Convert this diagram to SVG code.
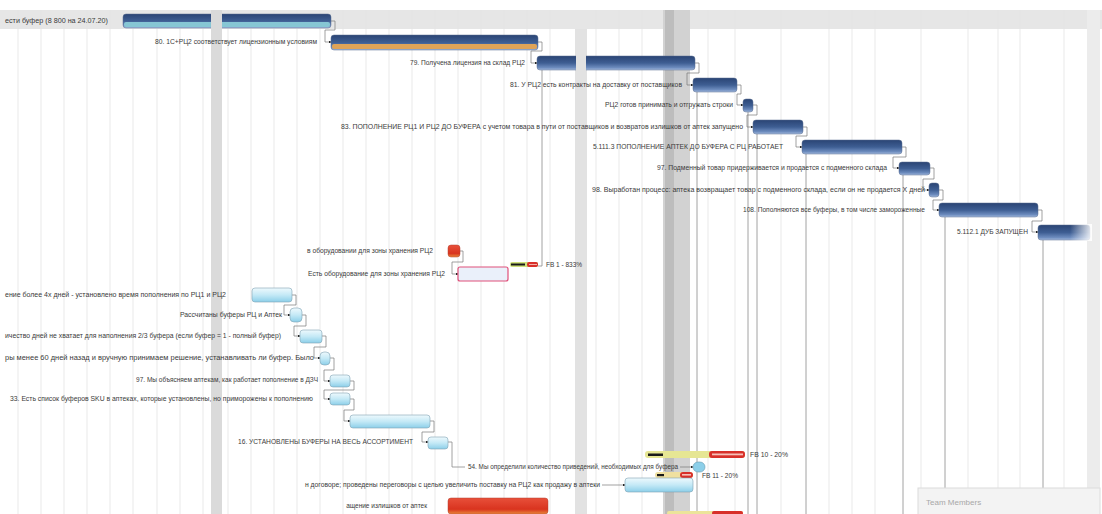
<svg xmlns="http://www.w3.org/2000/svg" width="1102" height="514" viewBox="0 0 1102 514">
<defs>
<linearGradient id="gDark" x1="0" y1="0" x2="0" y2="1">
<stop offset="0" stop-color="#2a4474"/><stop offset="0.5" stop-color="#3e5e93"/><stop offset="0.85" stop-color="#6f8ec0"/><stop offset="1" stop-color="#a9bedf"/>
</linearGradient>
<linearGradient id="gLight" x1="0" y1="0" x2="0" y2="1">
<stop offset="0" stop-color="#eef9fd"/><stop offset="0.5" stop-color="#c4e9f6"/><stop offset="1" stop-color="#8ccfe9"/>
</linearGradient>
<linearGradient id="gRed" x1="0" y1="0" x2="0" y2="1">
<stop offset="0" stop-color="#e8503a"/><stop offset="0.7" stop-color="#d9341f"/><stop offset="1" stop-color="#e88a3a"/>
</linearGradient>
<linearGradient id="gFade" x1="0" y1="0" x2="1" y2="0">
<stop offset="0" stop-color="#ffffff" stop-opacity="0"/><stop offset="1" stop-color="#ffffff" stop-opacity="0.9"/>
</linearGradient>
<marker id="arr" viewBox="0 0 6 6" refX="5" refY="3" markerWidth="4" markerHeight="4" orient="auto">
<path d="M0,0 L6,3 L0,6 Z" fill="#1a1a1a"/>
</marker>
<style>
text{font-family:"Liberation Sans","DejaVu Sans",sans-serif;font-size:6.5px;fill:#3a3a3a}
.grid{stroke:#e3e3e3;stroke-width:0.8}
.vline{stroke:#8a8a8a;stroke-width:0.8;fill:none}
.link{stroke:#7a7a7a;stroke-width:0.7;fill:none;marker-end:url(#arr)}
.dark{fill:url(#gDark);stroke:#5a6e90;stroke-width:0.5}
.light{fill:url(#gLight);stroke:#7fa3b3;stroke-width:0.6}
</style>
</defs>
<rect width="1102" height="514" fill="#ffffff"/>
<g id="background">
<rect x="0" y="10" width="1102" height="19" fill="#e6e6e6"/>
<rect x="211" y="10" width="11" height="504" fill="#dadada"/>
<rect x="575" y="29" width="12" height="485" fill="#e2e2e2"/>
<rect x="663" y="10" width="27" height="504" fill="#d2d2d2"/>
<rect x="665" y="10" width="9" height="504" fill="#bdbdbd"/>
<rect x="1087" y="10" width="13" height="504" fill="#ececec"/>
<g class="grid">
<line x1="18" y1="10" x2="18" y2="514"/><line x1="41" y1="10" x2="41" y2="514"/><line x1="64" y1="10" x2="64" y2="514"/><line x1="87" y1="10" x2="87" y2="514"/><line x1="110" y1="10" x2="110" y2="514"/><line x1="133" y1="10" x2="133" y2="514"/><line x1="157" y1="10" x2="157" y2="514"/><line x1="180" y1="10" x2="180" y2="514"/><line x1="203" y1="10" x2="203" y2="514"/><line x1="228" y1="10" x2="228" y2="514"/><line x1="251" y1="10" x2="251" y2="514"/><line x1="274" y1="10" x2="274" y2="514"/><line x1="297" y1="10" x2="297" y2="514"/><line x1="320" y1="10" x2="320" y2="514"/><line x1="343" y1="10" x2="343" y2="514"/><line x1="366" y1="10" x2="366" y2="514"/><line x1="389" y1="10" x2="389" y2="514"/><line x1="412" y1="10" x2="412" y2="514"/><line x1="435" y1="10" x2="435" y2="514"/><line x1="458" y1="10" x2="458" y2="514"/><line x1="481" y1="10" x2="481" y2="514"/><line x1="504" y1="10" x2="504" y2="514"/><line x1="527" y1="10" x2="527" y2="514"/><line x1="550" y1="10" x2="550" y2="514"/><line x1="596" y1="10" x2="596" y2="514"/><line x1="619" y1="10" x2="619" y2="514"/><line x1="642" y1="10" x2="642" y2="514"/><line x1="708" y1="10" x2="708" y2="514"/><line x1="735" y1="10" x2="735" y2="514"/><line x1="781" y1="10" x2="781" y2="514"/><line x1="829" y1="10" x2="829" y2="514"/><line x1="852" y1="10" x2="852" y2="514"/><line x1="875" y1="10" x2="875" y2="514"/><line x1="921" y1="10" x2="921" y2="514"/><line x1="968" y1="10" x2="968" y2="514"/><line x1="998" y1="10" x2="998" y2="514"/><line x1="1020" y1="10" x2="1020" y2="514"/><line x1="1064" y1="10" x2="1064" y2="514"/>
</g>
</g>
<g id="connectors">
<path class="vline" d="M542,70 V266 H538"/>
<path class="vline" d="M697,92 V514"/>
<path class="vline" d="M748,112 V514"/>
<path class="vline" d="M757,134 V514"/>
<path class="vline" d="M806,154 V514"/>
<path class="vline" d="M903,175 V514"/>
<path class="vline" d="M945,217 V514"/>
<path class="vline" d="M1043,240 V514"/>
<path class="link" d="M331,21 H335 V30 H325 V42 H331"/>
<path class="link" d="M538,42 H542 V51 H531 V63 H537"/>
<path class="link" d="M695,63 H699 V73 H687 V85 H693"/>
<path class="link" d="M737,85 H741 V94 H737 V105 H743"/>
<path class="link" d="M753,105 H757 V115 H747 V127 H753"/>
<path class="link" d="M803,127 H807 V136 H796 V147 H802"/>
<path class="link" d="M902,147 H906 V157 H893 V168 H899"/>
<path class="link" d="M930,168 H934 V179 H923 V190 H929"/>
<path class="link" d="M939,190 H943 V200 H933 V210 H939"/>
<path class="link" d="M1038,210 H1042 V221 H1032 V232 H1038"/>
<path class="link" d="M460,251 H463 V262 H452 V274 H458"/>
<path class="link" d="M292,295 H296 V305 H284 V315 H290"/>
<path class="link" d="M302,315 H306 V326 H294 V336 H300"/>
<path class="link" d="M322,336 H326 V347 H314 V358 H320"/>
<path class="link" d="M330,358 H334 V370 H324 V381 H330"/>
<path class="link" d="M350,381 H354 V390 H324 V399 H330"/>
<path class="link" d="M350,399 H354 V410 H344 V421 H350"/>
<path class="link" d="M430,421 H434 V432 H422 V442 H428"/>
<path class="vline" d="M448,442 H452 V467 H465"/>
<path class="link" d="M680,467 H693"/>
<path class="link" d="M602,485 H625"/>
</g>
<g id="row0"><text x="5" y="23" textLength="103" lengthAdjust="spacingAndGlyphs">ести буфер (8 800 на 24.07.20)</text>
<rect x="123" y="14" width="208" height="14" rx="3" class="dark"/><rect x="124" y="22" width="206" height="5" rx="2" fill="#86c6d4"/><rect x="211" y="13" width="11" height="16" fill="#dadada"/></g>
<g id="row1"><text x="155" y="44" textLength="162" lengthAdjust="spacingAndGlyphs">80. 1С+РЦ2 соответствует лицензионным условиям</text>
<rect x="331" y="35" width="207" height="15" rx="3" class="dark"/><rect x="332" y="44" width="205" height="5" rx="2" fill="#e0a458"/></g>
<g id="row2"><text x="410" y="65" textLength="115" lengthAdjust="spacingAndGlyphs">79. Получена лицензия на склад РЦ2</text>
<rect x="537" y="56" width="158" height="14" rx="3" class="dark"/><rect x="576" y="55" width="10" height="16" fill="#e2e2e2"/></g>
<g id="row3"><text x="510" y="87" textLength="172" lengthAdjust="spacingAndGlyphs">81. У РЦ2 есть контракты на доставку от поставщиков</text>
<rect x="693" y="78" width="44" height="14" rx="3" class="dark"/></g>
<g id="row4"><text x="605" y="107" textLength="128" lengthAdjust="spacingAndGlyphs">РЦ2 готов принимать и отгружать строки</text>
<rect x="743" y="99" width="10" height="13" rx="3" class="dark"/></g>
<g id="row5"><text x="341" y="129" textLength="402" lengthAdjust="spacingAndGlyphs">83. ПОПОЛНЕНИЕ РЦ1 И РЦ2 ДО БУФЕРА с учетом товара в пути от поставщиков и возвратов излишков от аптек запущено</text>
<rect x="753" y="120" width="50" height="14" rx="3" class="dark"/></g>
<g id="row6"><text x="593" y="149" textLength="190" lengthAdjust="spacingAndGlyphs">5.111.3 ПОПОЛНЕНИЕ АПТЕК ДО БУФЕРА С РЦ РАБОТАЕТ</text>
<rect x="802" y="140" width="100" height="14" rx="3" class="dark"/></g>
<g id="row7"><text x="657" y="170" textLength="230" lengthAdjust="spacingAndGlyphs">97. Подменный товар придерживается и продается с подменного склада</text>
<rect x="899" y="162" width="31" height="13" rx="3" class="dark"/></g>
<g id="row8"><text x="592" y="192" textLength="333" lengthAdjust="spacingAndGlyphs">98. Выработан процесс: аптека возвращает товар с подменного склада, если он не продается X дней</text>
<rect x="929" y="183" width="10" height="14" rx="3" class="dark"/></g>
<g id="row9"><text x="743" y="212" textLength="182" lengthAdjust="spacingAndGlyphs">108. Пополняются все буферы, в том числе замороженные</text>
<rect x="939" y="203" width="99" height="14" rx="3" class="dark"/></g>
<g id="row10"><text x="957" y="234" textLength="71" lengthAdjust="spacingAndGlyphs">5.112.1 ДУБ ЗАПУЩЕН</text>
<rect x="1038" y="225" width="52" height="15" rx="3" class="dark"/><rect x="1070" y="224" width="22" height="17" fill="url(#gFade)"/></g>
<g id="row11"><text x="307" y="253" textLength="126" lengthAdjust="spacingAndGlyphs">в оборудовании для зоны хранения РЦ2</text>
<rect x="448" y="245" width="12" height="12" rx="3" fill="url(#gRed)" stroke="#b04030" stroke-width="0.5"/></g>
<g id="row12"><text x="308" y="276" textLength="137" lengthAdjust="spacingAndGlyphs">Есть оборудование для зоны хранения РЦ2</text>
<rect x="458" y="267" width="50" height="14" rx="2" fill="#eaf0fa" stroke="#e0507a" stroke-width="1.2"/></g>
<g id="fb1"><rect x="510" y="262" width="28" height="5" rx="2" fill="#cfe07a"/><rect x="511" y="263.5" width="14" height="2" fill="#1a1a1a"/><rect x="527" y="262" width="11" height="5" rx="2" fill="#d8302a"/><rect x="529" y="264" width="8" height="1" fill="#f3b0a8"/>
<text x="546" y="267">FB 1 - 833%</text></g>
<g id="row13"><text x="5" y="297" textLength="221" lengthAdjust="spacingAndGlyphs">ение более 4х дней - установлено время пополнения по РЦ1 и РЦ2</text>
<rect x="252" y="288" width="40" height="14" rx="3" class="light"/></g>
<g id="row14"><text x="180" y="317" textLength="102" lengthAdjust="spacingAndGlyphs">Рассчитаны буферы РЦ и Аптек</text>
<rect x="290" y="308" width="12" height="14" rx="4" class="light"/></g>
<g id="row15"><text x="5" y="338" textLength="276" lengthAdjust="spacingAndGlyphs">ичество дней не хватает для наполнения 2/3 буфера (если буфер = 1 - полный буфер)</text>
<rect x="300" y="330" width="22" height="13" rx="3" class="light"/></g>
<g id="row16"><text x="5" y="360" textLength="309" lengthAdjust="spacingAndGlyphs">ры менее 60 дней назад и вручную принимаем решение, устанавливать ли буфер. Было</text>
<rect x="320" y="352" width="10" height="13" rx="4" class="light"/></g>
<g id="row17"><text x="318" y="382" text-anchor="end">97. Мы объясняем аптекам, как работает пополнение в ДЗЧ</text>
<rect x="330" y="375" width="20" height="12" rx="3" class="light"/></g>
<g id="row18"><text x="10" y="401" textLength="303" lengthAdjust="spacingAndGlyphs">33. Есть список буферов SKU в аптеках, которые установлены, но приморожены к пополнению</text>
<rect x="330" y="393" width="20" height="12" rx="3" class="light"/></g>
<g id="row19"><rect x="350" y="415" width="80" height="13" rx="3" class="light"/></g>
<g id="row20"><text x="238" y="444" textLength="175" lengthAdjust="spacingAndGlyphs">16. УСТАНОВЛЕНЫ БУФЕРЫ НА ВЕСЬ АССОРТИМЕНТ</text>
<rect x="428" y="437" width="20" height="12" rx="3" class="light"/></g>
<g id="fb10"><rect x="645" y="451" width="100" height="7" rx="3" fill="#e6e694"/><rect x="648" y="453.5" width="15" height="2.5" fill="#1a1a1a"/><rect x="709" y="451" width="36" height="7" rx="3" fill="#d8302a"/><rect x="712" y="453.5" width="31" height="1.8" fill="#f6c0b8"/>
<text x="750" y="457" textLength="38" lengthAdjust="spacingAndGlyphs">FB 10 - 20%</text></g>
<g id="row22"><text x="468" y="469" textLength="210" lengthAdjust="spacingAndGlyphs">54. Мы определили количество приведений, необходимых для буфера</text>
<rect x="693" y="462" width="12" height="10" rx="5" fill="#8ccfe9" stroke="#6a9cb0" stroke-width="0.6"/></g>
<g id="fb11"><rect x="655" y="472" width="38" height="6" rx="3" fill="#f0e0a0"/><rect x="657" y="474" width="7" height="2.2" fill="#1a1a1a"/><rect x="680" y="472" width="13" height="6" rx="3" fill="#d8302a"/><rect x="682" y="474" width="9" height="1.6" fill="#f6c0b8"/>
<text x="702" y="478" textLength="36" lengthAdjust="spacingAndGlyphs">FB 11 - 20%</text></g>
<g id="row23"><text x="305" y="487" textLength="295" lengthAdjust="spacingAndGlyphs">н договоре; проведены переговоры с целью увеличить поставку на РЦ2 как продажу в аптеки</text>
<rect x="625" y="478" width="68" height="14" rx="3" class="light"/></g>
<g id="row24"><text x="427" y="508" text-anchor="end">ащение излишков от аптек</text>
<rect x="448" y="498" width="100" height="16" rx="3" fill="url(#gRed)" stroke="#b04030" stroke-width="0.5"/>
<rect x="667" y="511" width="76" height="4" rx="2" fill="#ece49a"/><rect x="712" y="511" width="31" height="4" rx="2" fill="#d8302a"/></g>
<g id="team-members"><rect x="918" y="488" width="182" height="28" fill="#f3f3f3" stroke="#dcdcdc" stroke-width="1"/>
<text x="926" y="505" style="font-size:8px;fill:#a8a8a8">Team Members</text></g>
</svg>
